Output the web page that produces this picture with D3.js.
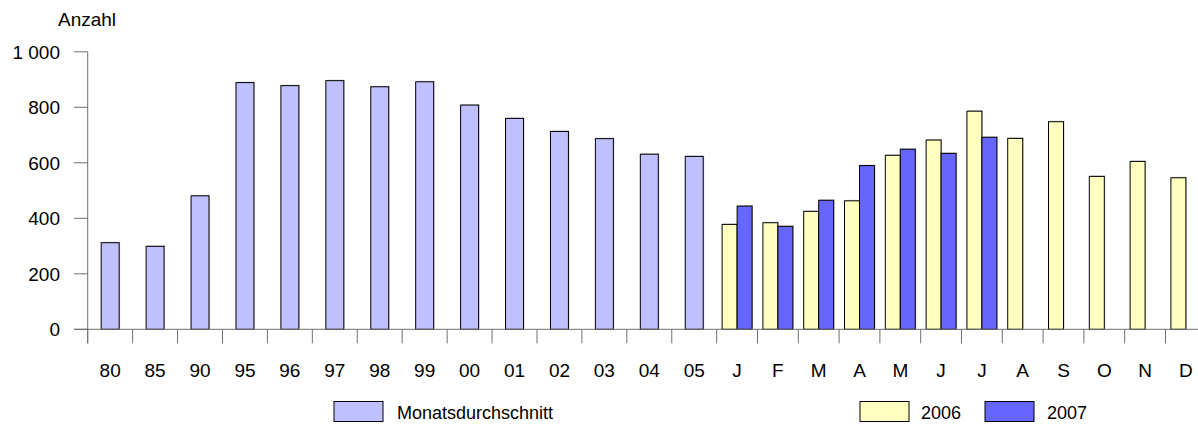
<!doctype html>
<html>
  <head>
    <script src="https://cdnjs.cloudflare.com/ajax/libs/d3/7.8.5/d3.min.js"></script>
    <style>
      body { margin: 0; background: #fff; }
      svg { display: block; }
      text { font-family: "Liberation Sans", Arial, sans-serif; font-size: 19px; fill: #000; }
      text.legend { font-size: 18px; }
    </style>
  </head>
  <body>
    <svg id="chart" width="1198" height="424"></svg>
    <script>
      // Jahresdurchschnitte (Monatsdurchschnitt)
      var years = ["80","85","90","95","96","97","98","99","00","01","02","03","04","05"];
      var yearValues = [312, 299, 481, 889, 878, 896, 874, 892, 808, 760, 713, 687, 631, 623];

      // Monate
      var months = ["J","F","M","A","M ","J ","J  ","A ","S","O","N","D"];
      var monthLabels = ["J","F","M","A","M","J","J","A","S","O","N","D"];
      var series = ["2006", "2007"];
      var values2006 = [378, 384, 425, 463, 627, 682, 786, 688, 748, 551, 605, 546];
      var values2007 = [444, 371, 465, 590, 649, 634, 692, null, null, null, null, null];

      var yTicks = [0, 200, 400, 600, 800, 1000];

      var colours = { avg: "#c0c0ff", "2006": "#ffffc0", "2007": "#6666ff" };

      var svg = d3.select("#chart");
      var axisColour = "#707070";

      var y = d3.scaleLinear().domain([0, 1000]).range([329.3, 51.8]);

      var xYears = d3.scaleBand().domain(years).range([87.7, 716.7])
        .paddingInner(0.6).paddingOuter(0.3);
      var monthStep = 40.8;
      var xMonths = d3.scaleBand().domain(months).range([716.7, 716.7 + 12 * monthStep])
        .paddingInner(0.265).paddingOuter(0.1325);
      var xSeries = d3.scaleBand().domain(series).range([0, xMonths.bandwidth()]);

      function drawBar(g, x, w, v, fill) {
        // leichter Schatten
        g.append("rect")
          .attr("x", x + 1).attr("y", y(v) - 1)
          .attr("width", w).attr("height", y(0) - y(v))
          .attr("fill", "#999").attr("opacity", 0.5);
        g.append("rect")
          .attr("x", x).attr("y", y(v))
          .attr("width", w).attr("height", y(0) - y(v))
          .attr("fill", fill).attr("stroke", "#000").attr("stroke-width", 1);
      }

      var bars = svg.append("g");
      years.forEach(function(k, i) {
        drawBar(bars, xYears(k), xYears.bandwidth(), yearValues[i], colours.avg);
      });
      months.forEach(function(k, i) {
        drawBar(bars, xMonths(k) + xSeries("2006"), xSeries.bandwidth(), values2006[i], colours["2006"]);
        if (values2007[i] != null)
          drawBar(bars, xMonths(k) + xSeries("2007"), xSeries.bandwidth(), values2007[i], colours["2007"]);
      });

      // y-Achse
      var axis = svg.append("g");
      axis.append("line")
        .attr("x1", 87.7).attr("x2", 87.7).attr("y1", y(1000)).attr("y2", y(0) + 14)
        .attr("stroke", axisColour);
      yTicks.forEach(function(t) {
        axis.append("line")
          .attr("x1", 74).attr("x2", 87.7).attr("y1", y(t)).attr("y2", y(t))
          .attr("stroke", axisColour);
        axis.append("text")
          .attr("x", 60).attr("y", y(t) + 7)
          .attr("text-anchor", "end")
          .text(d3.format(",")(t).replace(",", " "));
      });
      svg.append("text").attr("x", 58).attr("y", 26).text("Anzahl");

      // x-Achse
      axis.append("line")
        .attr("x1", 74).attr("x2", 1198).attr("y1", y(0)).attr("y2", y(0))
        .attr("stroke", axisColour);
      var boundaries = years.map(function(k) { return xYears(k) - xYears.step() * 0.3; })
        .concat(months.map(function(k) { return xMonths(k) - xMonths.step() * 0.1325; }))
        .concat([716.7 + 12 * monthStep]);
      boundaries.forEach(function(bx) {
        axis.append("line")
          .attr("x1", bx).attr("x2", bx).attr("y1", y(0)).attr("y2", y(0) + 14)
          .attr("stroke", axisColour);
      });
      years.forEach(function(k) {
        axis.append("text")
          .attr("x", xYears(k) + xYears.bandwidth() / 2).attr("y", 377)
          .attr("text-anchor", "middle").text(k);
      });
      months.forEach(function(k, i) {
        axis.append("text")
          .attr("x", xMonths(k) + xMonths.bandwidth() / 2).attr("y", 377)
          .attr("text-anchor", "middle").text(monthLabels[i]);
      });

      // Legende
      var legend = [
        { label: "Monatsdurchschnitt", fill: colours.avg, x: 334, tx: 397 },
        { label: "2006", fill: colours["2006"], x: 860, tx: 921 },
        { label: "2007", fill: colours["2007"], x: 985, tx: 1047 }
      ];
      var lg = svg.append("g");
      legend.forEach(function(d) {
        lg.append("rect")
          .attr("x", d.x).attr("y", 401.5).attr("width", 49).attr("height", 20)
          .attr("fill", d.fill).attr("stroke", "#000").attr("stroke-width", 1);
        lg.append("text").attr("class", "legend").attr("x", d.tx).attr("y", 418.5).text(d.label);
      });
    </script>
  </body>
</html>
